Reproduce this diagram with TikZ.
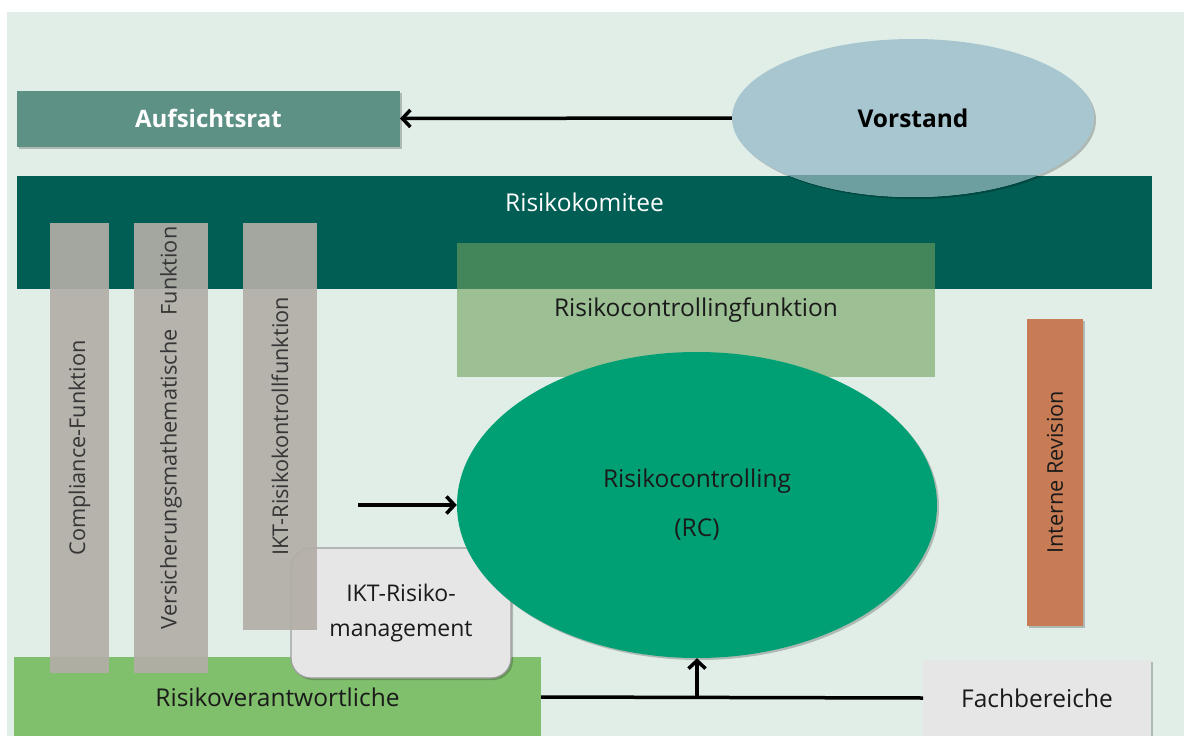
\documentclass[tikz,border=0pt]{standalone}
\usepackage{fontspec}
\setmainfont{Open Sans}
\usetikzlibrary{shapes.geometric,arrows.meta,shadows,calc}
\definecolor{bgc}{HTML}{E0EEE7}
\definecolor{aufc}{HTML}{5E9186}
\definecolor{komc}{HTML}{005E54}
\definecolor{vorc}{HTML}{A7C6CF}
\definecolor{vorov}{HTML}{6D9FA1}
\definecolor{rcfc}{HTML}{70A25D}
\definecolor{rcc}{HTML}{00A074}
\definecolor{riskc}{HTML}{80BF6B}
\definecolor{grayc}{HTML}{B3ADA7}
\definecolor{lightc}{HTML}{E6E6E6}
\definecolor{ikbord}{HTML}{9C9C9C}
\definecolor{revc}{HTML}{C77C56}
\definecolor{txtc}{HTML}{1A1A1A}
\definecolor{bartxt}{HTML}{363636}
\begin{document}
\begin{tikzpicture}[x=1pt,y=-1pt,
  font=\fontsize{24.5}{29}\selectfont, text=txtc,
  blk/.style={rectangle, inner sep=0pt, outer sep=0pt},
  shad/.style={drop shadow={shadow xshift=2pt, shadow yshift=-2pt, opacity=0.22, fill=black}},
  gbar/.style={blk, rotate=90, fill=grayc, fill opacity=0.92, text opacity=1, text=bartxt, font=\fontsize{21.7}{26}\selectfont},
  arr/.style={line width=3.5pt, -{Straight Barb[length=8pt,width=17pt]}},
  ln/.style={line width=3.5pt}
]
\useasboundingbox (0,0) rectangle (1184,736);
\fill[white] (0,0) rectangle (1184,736);
\fill[bgc] (7,12) rectangle (1184,736);

% Risikokomitee
\node[blk, fill=komc, minimum width=1135pt, minimum height=113pt,
  label={[text=white, anchor=center, yshift=-27pt]north:Risikokomitee}] (kom) at (584.5,232) {};

% Vorstand
\node[ellipse, inner sep=0pt, fill=vorc, minimum width=362pt, minimum height=158pt,
  font=\bfseries\fontsize{24.5}{29}\selectfont, text=black, shad] (vor) at (913,118) {Vorstand};
\begin{scope}
  \clip (kom.north west) rectangle (kom.south east);
  \fill[vorov] (vor.center) ellipse [x radius=181, y radius=79];
\end{scope}

% Aufsichtsrat
\node[blk, fill=aufc, minimum width=383pt, minimum height=56pt, text=white,
  font=\bfseries\fontsize{24}{28}\selectfont, shad] (auf) at (208.5,118.5) {Aufsichtsrat};
\draw[arr] (vor.west) -- (auf.east);

% Risikocontrollingfunktion
\node[blk, fill=rcfc, fill opacity=0.6, text opacity=1, minimum width=478pt, minimum height=134pt]
  (rcf) at (696,310) {Risikocontrollingfunktion};

% Risikoverantwortliche
\node[blk, fill=riskc, minimum width=527pt, minimum height=80pt] (risk) at (277.5,697) {Risikoverantwortliche};

% IKT-Risikomanagement
\node[blk, fill=lightc, draw=ikbord, line width=1.2pt, rounded corners=20pt,
  minimum width=220pt, minimum height=130pt, align=center, shad,
  font=\fontsize{23}{27}\selectfont] (ikt) at (401,613)
  {IKT-Risiko-\\[8pt]management};

% vertical grey bars
\node[gbar, minimum width=450pt, minimum height=59pt] (comp) at (79.5,448) {Compliance-Funktion};
\node[gbar, minimum width=450pt, minimum height=74pt] (vers) at (171,448)
  {\hspace*{40pt}Versicherungsmathematische\hspace{14pt}Funktion};
\node[gbar, minimum width=407pt, minimum height=74pt] (iktk) at (280,426.5) {IKT-Risikokontrollfunktion};

% Risikocontrolling
\node[ellipse, inner sep=0pt, fill=rcc, minimum width=480pt, minimum height=306pt, align=center, shad]
  (rc) at (697,505) {Risikocontrolling\\[20pt](RC)};

% Interne Revision
\node[blk, rotate=90, fill=revc, minimum width=307pt, minimum height=56pt,
  font=\fontsize{21.7}{26}\selectfont, shad] (rev) at (1055,472.5) {Interne Revision};

% Fachbereiche
\node[blk, fill=lightc, minimum width=228pt, minimum height=76pt, shad] (fach) at (1037,698) {Fachbereiche};

% connectors
\coordinate (src) at (358,505);
\draw[arr] (src) -- (rc.west);
\draw[ln] (risk.east) -- (fach.west);
\coordinate (junc) at (rc.south |- risk.east);
\draw[arr] (junc) -- (rc.south);
\end{tikzpicture}
\end{document}
